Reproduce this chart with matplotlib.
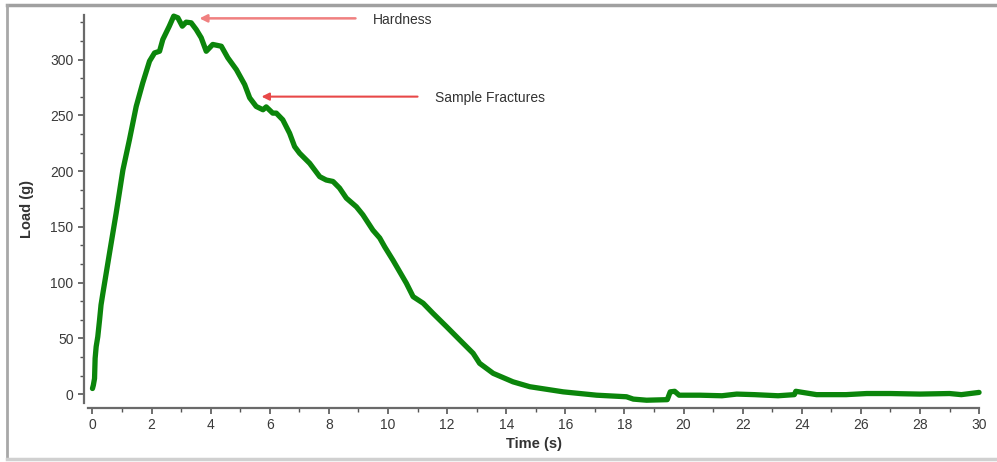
import matplotlib.pyplot as plt
from matplotlib.lines import Line2D
from matplotlib.ticker import MultipleLocator

plt.rcParams['font.family'] = ['Liberation Sans', 'DejaVu Sans']

# load curve
time_s = [0.0, 0.03, 0.07, 0.09, 0.125, 0.18, 0.24, 0.29, 0.35, 0.58, 0.8, 1.03, 1.25, 1.48, 1.7, 1.93,
          2.1, 2.27, 2.38, 2.6, 2.75, 2.89, 3.04, 3.17, 3.34, 3.51, 3.68, 3.85,
          4.07, 4.36, 4.58, 4.87, 5.15, 5.32, 5.54, 5.77, 5.88, 6.1, 6.22, 6.44,
          6.67, 6.84, 7.01, 7.35, 7.69, 7.91, 8.14, 8.36, 8.59, 8.93, 9.15, 9.49,
          9.72, 9.89, 10.17, 10.62, 10.85, 11.19, 11.52, 11.98, 12.43, 12.88,
          13.1, 13.56, 14.23, 14.8, 15.93, 17.06, 18.07, 18.3, 18.75, 19.45,
          19.55, 19.7, 19.85, 20.55, 21.3, 21.8, 22.4, 23.2, 23.75, 23.8, 24.5,
          25.5, 26.2, 27.0, 28.0, 29.0, 29.4, 30.0]
load_g = [5, 8, 14, 32, 42.5, 51.5, 66.5, 80, 90, 127, 162, 201, 228, 258, 279, 298.6,
          306, 307.5, 318, 330, 339, 337.5, 330, 333.6, 333, 327, 319.6, 307.5,
          313.6, 312, 301.6, 291, 277.6, 265.7, 258, 255, 257.6, 252, 252, 246,
          234, 222, 216, 207, 195, 192, 190.7, 184.8, 175.8, 168, 160.8, 147,
          140, 132, 120, 99.5, 87.4, 81.5, 72.5, 60.5, 48.5, 36.6,
          27.6, 18.6, 11, 6.6, 2, -1, -2.4, -4.5, -5.5, -5,
          2, 2.5, -1, -1, -1.5, 0, -0.5, -1.5, -0.5, 2.5, -0.5,
          -0.5, 0.5, 0.5, 0, 0.5, -0.5, 1.5]

x_ticks = list(range(0, 31, 2))
y_ticks = [0, 50, 100, 150, 200, 250, 300]

fig = plt.figure(figsize=(9.97, 4.62), dpi=100)
ax = fig.add_axes([0.0883, 0.1277, 0.8937, 0.8398])

ax.plot(time_s, load_g, color='#0b850b', lw=3.8, solid_joinstyle='round',
        solid_capstyle='round', clip_on=False)

ax.set_xlim(-0.15, 30)
ax.set_ylim(-8, 340)
ax.set_xticks(x_ticks)
ax.set_yticks(y_ticks)
ax.xaxis.set_minor_locator(MultipleLocator(1))
ax.yaxis.set_minor_locator(MultipleLocator(50 / 3))

for side in ['top', 'right']:
    ax.spines[side].set_visible(False)
ax.spines['bottom'].set_position(('outward', 3.6))
ax.spines['left'].set_position(('outward', 2.9))
for side in ['bottom', 'left']:
    ax.spines[side].set_color('#6a6a6a')
    ax.spines[side].set_linewidth(1.6)
ax.tick_params(which='major', length=4.5, width=1.2, color='#555555',
               labelsize=10, labelcolor='#3a3a3a', pad=3)
ax.tick_params(which='minor', length=2.8, width=1.0, color='#555555')

ax.set_xlabel('Time (s)', fontsize=10.5, fontweight='bold', color='#333333', labelpad=3)
ax.set_ylabel('Load (g)', fontsize=10.5, fontweight='bold', color='#333333', labelpad=12)

# annotations
ax.annotate('', xy=(3.62, 337), xytext=(8.9, 337),
            arrowprops=dict(arrowstyle='-|>', color='#f08080', lw=1.8, mutation_scale=11,
                            shrinkA=0, shrinkB=0))
ax.text(9.48, 335.5, 'Hardness', fontsize=10, color='#333333', va='center', ha='left')
ax.annotate('', xy=(5.72, 266.8), xytext=(11.0, 266.8),
            arrowprops=dict(arrowstyle='-|>', color='#e84848', lw=1.5, mutation_scale=11,
                            shrinkA=0, shrinkB=0))
ax.text(11.6, 265.5, 'Sample Fractures', fontsize=10, color='#333333', va='center', ha='left')

# grey frame around the picture
fig.add_artist(Line2D([0.007, 1.0], [0.9892, 0.9892], color='#a0a0a0', lw=2.5))
fig.add_artist(Line2D([0.007, 0.007], [0.006, 0.9892], color='#a8a8a8', lw=2.0))
fig.add_artist(Line2D([0.007, 1.0], [0.006, 0.006], color='#d0d0d0', lw=2.5))

fig.savefig('out.png', dpi=100)
